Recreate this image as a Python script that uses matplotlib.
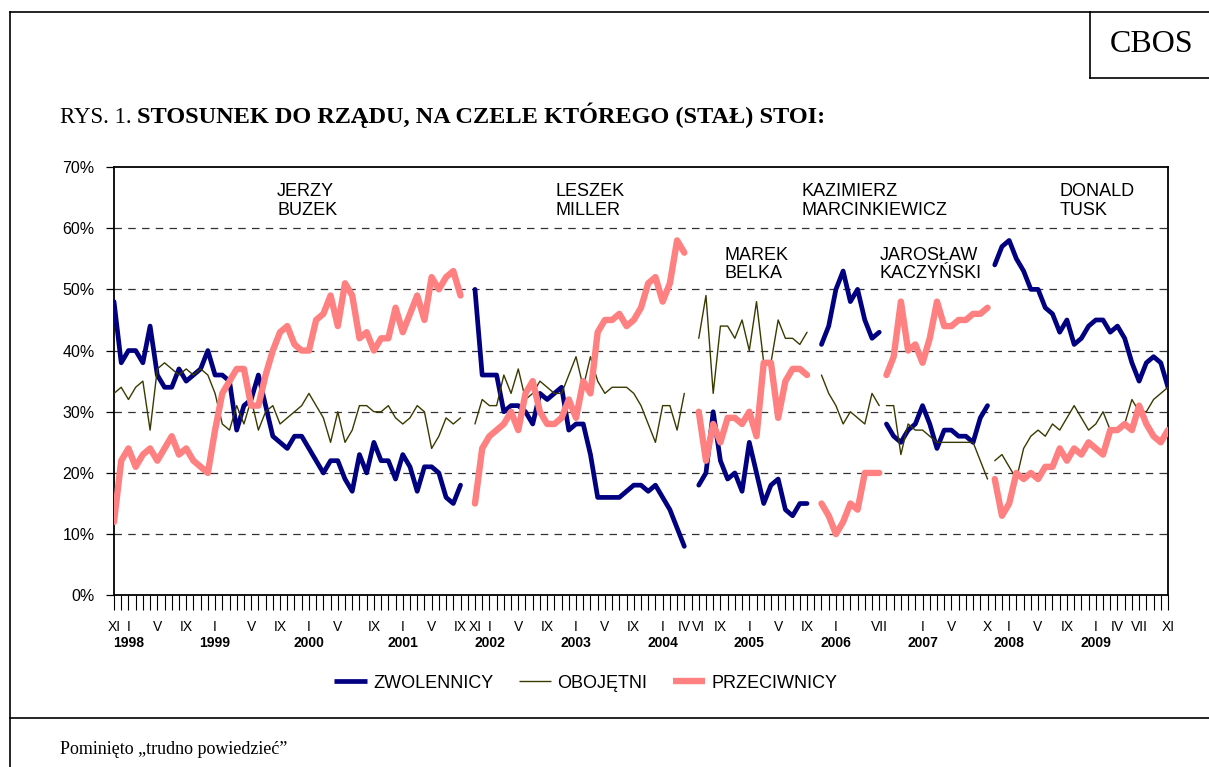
import numpy as np
import matplotlib
matplotlib.use('Agg')
import matplotlib.pyplot as plt
from matplotlib.lines import Line2D
import matplotlib.transforms as mtransforms

plt.rcParams['font.family'] = ['Liberation Sans', 'DejaVu Sans']

# ---------------- data ----------------
governments = ['JERZY\nBUZEK', 'LESZEK\nMILLER', 'MAREK\nBELKA',
               'KAZIMIERZ\nMARCINKIEWICZ', 'JAROSŁAW\nKACZYŃSKI', 'DONALD\nTUSK']
# first category index of each government's series
period_start = [0, 50, 81, 98, 107, 122]

zwolennicy_buzek = [48, 38, 40, 40, 38, 44, 36, 34, 34, 37, 35, 36, 37, 40, 36, 36, 35, 27, 31, 32,
                    36, 31, 26, 25, 24, 26, 26, 24, 22, 20, 22, 22, 19, 17, 23, 20, 25, 22, 22, 19,
                    23, 21, 17, 21, 21, 20, 16, 15, 18]
zwolennicy_miller = [50, 36, 36, 36, 30, 31, 31, 30, 28, 33, 32, 33, 34, 27, 28, 28, 23, 16, 16, 16,
                     16, 17, 18, 18, 17, 18, 16, 14, 11, 8]
zwolennicy_belka = [18, 20, 30, 22, 19, 20, 17, 25, 20, 15, 18, 19, 14, 13, 15, 15]
zwolennicy_marcinkiewicz = [41, 44, 50, 53, 48, 50, 45, 42, 43]
zwolennicy_kaczynski = [28, 26, 25, 27, 28, 31, 28, 24, 27, 27, 26, 26, 25, 29, 31]
zwolennicy_tusk = [54, 57, 58, 55, 53, 50, 50, 47, 46, 43, 45, 41, 42, 44, 45, 45, 43, 44, 42, 38,
                   35, 38, 39, 38, 34]

obojetni_buzek = [33, 34, 32, 34, 35, 27, 37, 38, 37, 36, 37, 36, 37, 36, 33, 28, 27, 31, 28, 32,
                  27, 30, 31, 28, 29, 30, 31, 33, 31, 29, 25, 30, 25, 27, 31, 31, 30, 30, 31, 29,
                  28, 29, 31, 30, 24, 26, 29, 28, 29]
obojetni_miller = [28, 32, 31, 31, 36, 33, 37, 32, 33, 35, 34, 33, 33, 36, 39, 34, 39, 35, 33, 34,
                   34, 34, 33, 31, 28, 25, 31, 31, 27, 33]
obojetni_belka = [42, 49, 33, 44, 44, 42, 45, 40, 48, 38, 38, 45, 42, 42, 41, 43]
obojetni_marcinkiewicz = [36, 33, 31, 28, 30, 29, 28, 33, 31]
obojetni_kaczynski = [31, 31, 23, 28, 27, 27, 26, 25, 25, 25, 25, 25, 25, 22, 19]
obojetni_tusk = [22, 23, 21, 19, 24, 26, 27, 26, 28, 27, 29, 31, 29, 27, 28, 30, 27, 27, 28, 32,
                 30, 30, 32, 33, 34]

przeciwnicy_buzek = [12, 22, 24, 21, 23, 24, 22, 24, 26, 23, 24, 22, 21, 20, 27, 33, 35, 37, 37, 31,
                     31, 36, 40, 43, 44, 41, 40, 40, 45, 46, 49, 44, 51, 49, 42, 43, 40, 42, 42, 47,
                     43, 46, 49, 45, 52, 50, 52, 53, 49]
przeciwnicy_miller = [15, 24, 26, 27, 28, 30, 27, 33, 35, 30, 28, 28, 29, 32, 29, 35, 33, 43, 45, 45,
                      46, 44, 45, 47, 51, 52, 48, 51, 58, 56]
przeciwnicy_belka = [30, 22, 28, 25, 29, 29, 28, 30, 26, 38, 38, 29, 35, 37, 37, 36]
przeciwnicy_marcinkiewicz = [15, 13, 10, 12, 15, 14, 20, 20, 20]
przeciwnicy_kaczynski = [36, 39, 48, 40, 41, 38, 42, 48, 44, 44, 45, 45, 46, 46, 47]
przeciwnicy_tusk = [19, 13, 15, 20, 19, 20, 19, 21, 21, 24, 22, 24, 23, 25, 24, 23, 27, 27, 28, 27,
                    31, 28, 26, 25, 27]

n_categories = 147
month_tick_pos = [0, 2, 6, 10, 14, 19, 23, 27, 31, 36, 40, 44, 48, 50, 52, 56, 60, 64, 68, 72,
                  76, 79, 81, 84, 88, 92, 96, 100, 106, 112, 116, 121, 124, 128, 132, 136, 139,
                  142, 146]
month_tick_labels = ['XI', 'I', 'V', 'IX', 'I', 'V', 'IX', 'I', 'V', 'IX', 'I', 'V', 'IX', 'XI',
                     'I', 'V', 'IX', 'I', 'V', 'IX', 'I', 'IV', 'VI', 'IX', 'I', 'V', 'IX', 'I',
                     'VII', 'I', 'V', 'X', 'I', 'V', 'IX', 'I', 'IV', 'VII', 'XI']
year_tick_pos = [2, 14, 27, 40, 52, 64, 76, 88, 100, 112, 124, 136]
year_tick_labels = ['1998', '1999', '2000', '2001', '2002', '2003', '2004', '2005', '2006',
                    '2007', '2008', '2009']

label_x = [22.6, 61.2, 84.6, 95.2, 106.0, 131.0]
label_y = [67.4, 67.4, 57.0, 67.4, 57.0, 67.4]

series = [
    ('ZWOLENNICY', [zwolennicy_buzek, zwolennicy_miller, zwolennicy_belka,
                    zwolennicy_marcinkiewicz, zwolennicy_kaczynski, zwolennicy_tusk],
     '#000080', 3.4),
    ('OBOJĘTNI', [obojetni_buzek, obojetni_miller, obojetni_belka,
                  obojetni_marcinkiewicz, obojetni_kaczynski, obojetni_tusk],
     '#3a3a00', 1.0),
    ('PRZECIWNICY', [przeciwnicy_buzek, przeciwnicy_miller, przeciwnicy_belka,
                     przeciwnicy_marcinkiewicz, przeciwnicy_kaczynski, przeciwnicy_tusk],
     '#ff8080', 4.6),
]

# ---------------- figure ----------------
W, H = 1209, 767
fig = plt.figure(figsize=(W / 100, H / 100), dpi=100)
fig.patch.set_facecolor('white')


def fx(px):
    return px / W


def fy(py):
    return 1 - py / H


ax_left, ax_right, ax_top, ax_bottom = 114, 1168, 167, 595.3
ax = fig.add_axes([fx(ax_left), fy(ax_bottom), fx(ax_right - ax_left), (ax_bottom - ax_top) / H])

handles = []
for name, parts, color, lw in series:
    for start, vals in zip(period_start, parts):
        xs = np.arange(start, start + len(vals))
        ax.plot(xs, vals, color=color, lw=lw, solid_joinstyle='round',
                solid_capstyle='round', zorder=3)
    handles.append(Line2D([], [], color=color, lw=lw, solid_capstyle='butt'))

ax.set_xlim(0, n_categories - 1)
ax.set_ylim(0, 70)
ax.set_yticks(np.arange(0, 71, 10))
ax.set_yticklabels([f'{v}%' for v in range(0, 71, 10)], fontsize=11.5)
ax.tick_params(axis='y', length=6, width=0.9, pad=8)
for v in range(10, 70, 10):
    ax.axhline(v, color='#333333', lw=0.9, dashes=(6, 5), zorder=1)

ax.set_xticks(np.arange(n_categories))
ax.set_xticklabels([])
ax.tick_params(axis='x', length=11, width=0.8, direction='out', colors='black')
for sp in ax.spines.values():
    sp.set_linewidth(1.3)
    sp.set_color('black')

trans = mtransforms.blended_transform_factory(ax.transData, fig.transFigure)
for p, lab in zip(month_tick_pos, month_tick_labels):
    ax.text(p, fy(627), lab, transform=trans, ha='center', va='center', fontsize=10)
for p, lab in zip(year_tick_pos, year_tick_labels):
    ax.text(p, fy(643), lab, transform=trans, ha='center', va='center', fontsize=10,
            fontweight='bold')

for txt, x, y in zip(governments, label_x, label_y):
    ax.text(x, y, txt, ha='left', va='top', fontsize=13, linespacing=1.15)

fig.legend(handles, [s[0] for s in series], loc='center', bbox_to_anchor=(fx(586), fy(683)),
           ncol=3, frameon=False, fontsize=13, handlelength=1.8, columnspacing=1.4,
           handletextpad=0.35)

# ---------------- frame and titles ----------------
lk = dict(color='black', lw=1.2, transform=fig.transFigure)
fig.add_artist(Line2D([fx(10), fx(10)], [fy(12), fy(767)], **lk))
fig.add_artist(Line2D([fx(10), fx(1209)], [fy(12), fy(12)], **lk))
fig.add_artist(Line2D([fx(10), fx(1209)], [fy(718), fy(718)], **lk))
fig.add_artist(Line2D([fx(1090), fx(1090)], [fy(12), fy(78)], **lk))
fig.add_artist(Line2D([fx(1090), fx(1209)], [fy(78), fy(78)], **lk))

fig.text(fx(1152), fy(44), 'CBOS', ha='center', va='center', fontsize=23,
         family='Liberation Serif')

t1 = fig.text(fx(60), fy(123), 'RYS. 1. ', ha='left', va='baseline', fontsize=16.5,
              family='Liberation Serif')
fig.canvas.draw()
bb = t1.get_window_extent(renderer=fig.canvas.get_renderer())
fig.text(bb.x1 / W, fy(123), 'STOSUNEK DO RZĄDU, NA CZELE KTÓREGO (STAŁ) STOI:', ha='left',
         va='baseline', fontsize=17.5, family='Liberation Serif', fontweight='bold')

fig.text(fx(60), fy(750), 'Pominięto „trudno powiedzieć”', ha='left', va='center',
         fontsize=13, family='Liberation Serif')

fig.savefig('out.png', dpi=100)
